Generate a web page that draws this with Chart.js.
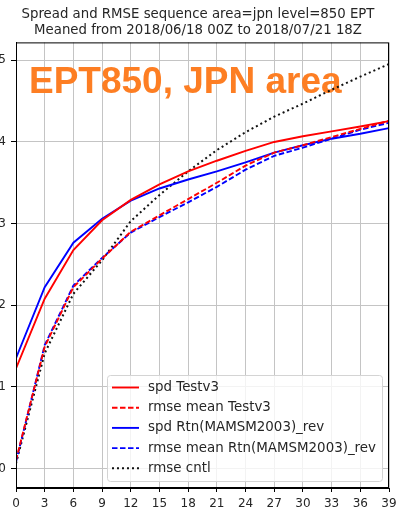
<!DOCTYPE html>
<html lang="en">
<head>
    <meta charset="UTF-8">
    <title>Spread and RMSE sequence</title>
    <script src="https://cdn.jsdelivr.net/npm/chart.js"></script>
    <style>
        body { margin: 0; background: #fff; }
    </style>
</head>
<body>
    <canvas id="seqChart" width="396" height="511"></canvas>
    <script>
        // forecast time (hours)
        const FT = [0, 3, 6, 9, 12, 15, 18, 21, 24, 27, 30, 33, 36, 39];
        const Y_TICKS = [0, 1, 2, 3, 4, 5];

        const spdTest = [1.225, 2.08, 2.675, 3.04, 3.29, 3.48, 3.64, 3.77, 3.89, 4.00, 4.07, 4.13, 4.19, 4.255];
        const rmseTest = [0.10, 1.49, 2.22, 2.57, 2.90, 3.10, 3.30, 3.50, 3.71, 3.87, 3.96, 4.06, 4.16, 4.26];
        const spdRtn = [1.35, 2.22, 2.765, 3.06, 3.28, 3.43, 3.54, 3.64, 3.75, 3.87, 3.96, 4.04, 4.10, 4.17];
        const rmseRtn = [0.08, 1.51, 2.24, 2.58, 2.89, 3.08, 3.26, 3.45, 3.66, 3.83, 3.93, 4.04, 4.15, 4.235];
        const rmseCntl = [0.06, 1.41, 2.14, 2.55, 3.03, 3.35, 3.64, 3.90, 4.12, 4.31, 4.47, 4.64, 4.80, 4.955];

        function pts(vals) {
            return vals.map((v, i) => ({ x: FT[i], y: v }));
        }

        const FONT = "'DejaVu Sans', sans-serif";

        // orange label, frame and legend box drawn by hand (matplotlib look)
        const decor = {
            id: 'decor',
            beforeDatasetsDraw(chart) {
                const ctx = chart.ctx;
                ctx.save();
                ctx.font = "bold 37px 'Liberation Sans', Arial, sans-serif";
                ctx.fillStyle = '#fd7e23';
                ctx.textBaseline = 'alphabetic';
                ctx.fillText('EPT850, JPN area', 29, 93);
                ctx.restore();
            },
            afterDatasetsDraw(chart) {
                const a = chart.chartArea;
                const ctx = chart.ctx;
                ctx.save();
                ctx.strokeStyle = '#000';
                ctx.lineWidth = 1;
                ctx.strokeRect(a.left + 0.5, a.top + 0.5, a.right - a.left - 1, a.bottom - a.top - 1);
                ctx.restore();
            },
            afterDraw(chart) {
                const ctx = chart.ctx;
                const bx = 107, by = 375, bw = 275, bh = 106;
                ctx.save();
                ctx.beginPath();
                ctx.roundRect(bx + 0.5, by + 0.5, bw, bh, 3);
                ctx.fillStyle = 'rgba(255,255,255,0.8)';
                ctx.fill();
                ctx.strokeStyle = '#d4d4d4';
                ctx.lineWidth = 1;
                ctx.stroke();
                ctx.font = '13.4px ' + FONT;
                ctx.textBaseline = 'middle';
                chart.data.datasets.forEach((ds, i) => {
                    const y = 387.5 + i * 20.2;
                    ctx.beginPath();
                    ctx.setLineDash(ds.borderDash || []);
                    ctx.strokeStyle = ds.borderColor;
                    ctx.lineWidth = ds.borderWidth;
                    ctx.moveTo(112, y);
                    ctx.lineTo(139, y);
                    ctx.stroke();
                    ctx.setLineDash([]);
                    ctx.fillStyle = '#262626';
                    ctx.fillText(ds.label, 148, y);
                });
                ctx.restore();
            }
        };

        const ctx = document.getElementById('seqChart').getContext('2d');
        const chart = new Chart(ctx, {
            type: 'line',
            data: {
                datasets: [{
                    label: 'spd Testv3',
                    data: pts(spdTest),
                    borderColor: '#ff0000',
                    borderWidth: 1.9
                }, {
                    label: 'rmse mean Testv3',
                    data: pts(rmseTest),
                    borderColor: '#ff0000',
                    borderWidth: 1.9,
                    borderDash: [5.5, 2.5]
                }, {
                    label: 'spd Rtn(MAMSM2003)_rev',
                    data: pts(spdRtn),
                    borderColor: '#0000ff',
                    borderWidth: 1.9
                }, {
                    label: 'rmse mean Rtn(MAMSM2003)_rev',
                    data: pts(rmseRtn),
                    borderColor: '#0000ff',
                    borderWidth: 1.9,
                    borderDash: [5.5, 2.5]
                }, {
                    label: 'rmse cntl',
                    data: pts(rmseCntl),
                    borderColor: '#111111',
                    borderWidth: 2,
                    borderDash: [2, 3]
                }]
            },
            options: {
                responsive: false,
                animation: false,
                devicePixelRatio: 1,
                elements: { point: { radius: 0 }, line: { tension: 0, fill: false } },
                layout: { padding: { left: 0, right: 0, top: 0, bottom: 0 } },
                plugins: {
                    legend: { display: false },
                    tooltip: { enabled: false },
                    title: {
                        display: true,
                        text: ['Spread and RMSE sequence area=jpn level=850 EPT',
                               'Meaned from 2018/06/18 00Z to 2018/07/21 18Z'],
                        color: '#262626',
                        font: { family: FONT, size: 13.3, weight: 'normal', lineHeight: 1.18 },
                        padding: { top: 7, bottom: 4 }
                    }
                },
                scales: {
                    x: {
                        type: 'linear',
                        min: 0,
                        max: 39,
                        afterFit: s => { s.height = 23; s.paddingRight = 7; },
                        afterBuildTicks: s => { s.ticks = FT.map(v => ({ value: v })); },
                        ticks: {
                            autoSkip: false,
                            maxRotation: 0,
                            padding: 5,
                            color: '#262626',
                            font: { family: FONT, size: 12 }
                        },
                        grid: { color: '#c4c4c4', lineWidth: 1, tickLength: 4, tickColor: '#000' },
                        border: { color: '#000' }
                    },
                    y: {
                        min: -0.24,
                        max: 5.22,
                        afterFit: s => { s.width = 16; },
                        afterBuildTicks: s => { s.ticks = Y_TICKS.map(v => ({ value: v })); },
                        ticks: {
                            padding: 5,
                            color: '#262626',
                            font: { family: FONT, size: 12 }
                        },
                        grid: { color: '#c4c4c4', lineWidth: 1, tickLength: 5, tickColor: '#000' },
                        border: { color: '#000' }
                    }
                }
            },
            plugins: [decor]
        });
    </script>
</body>
</html>
